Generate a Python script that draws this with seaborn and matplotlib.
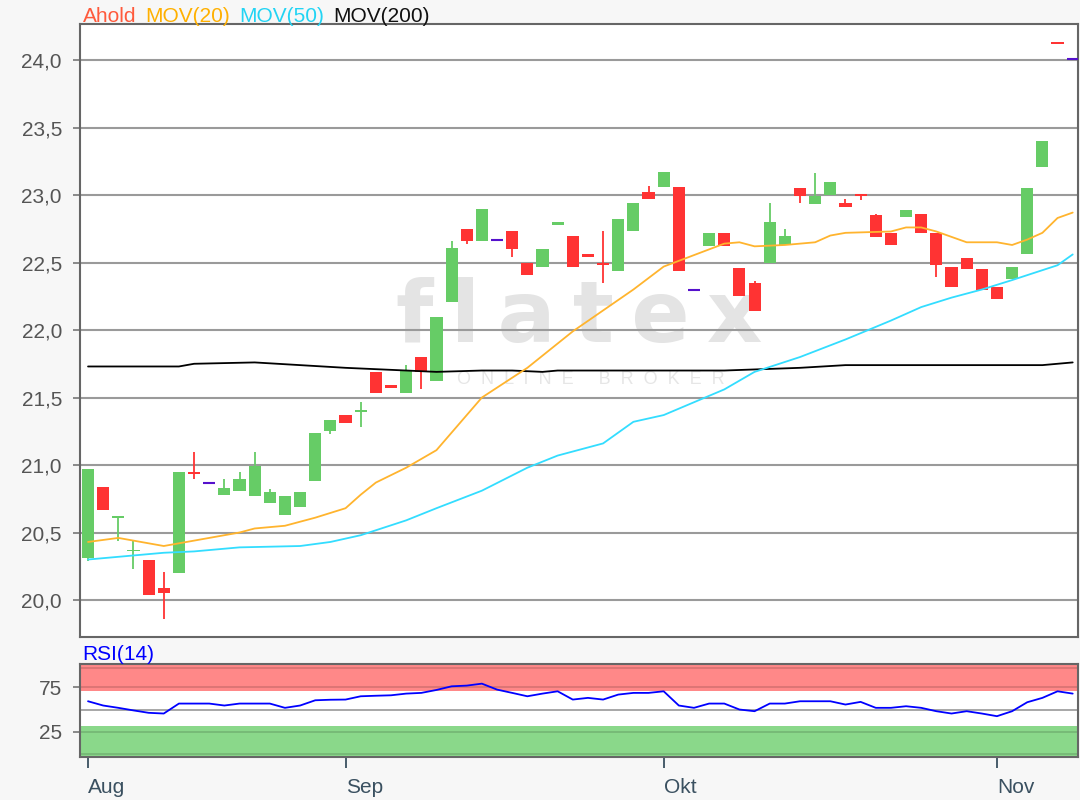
import matplotlib
matplotlib.use("Agg")
import matplotlib.pyplot as plt
import seaborn as sns
import pandas as pd
import numpy as np
from matplotlib.ticker import FuncFormatter

sns.set_theme(style="white")
plt.rcParams["font.family"] = ["Liberation Sans", "DejaVu Sans"]

# daily candles (trading day index 0..65)
open_ = [20.31, 20.84, 20.61, 20.36, 20.30, 20.09, 20.20, 20.95, 20.87, 20.78,
         20.81, 20.77, 20.72, 20.63, 20.69, 20.88, 21.25, 21.37, 21.39, 21.69,
         21.59, 21.53, 21.80, 21.62, 22.21, 22.75, 22.66, 22.67, 22.73, 22.50,
         22.47, 22.78, 22.70, 22.56, 22.50, 22.44, 22.73, 23.02, 23.06, 23.06,
         22.30, 22.62, 22.72, 22.46, 22.35, 22.50, 22.63, 23.05, 22.93, 23.00,
         22.94, 23.01, 22.85, 22.72, 22.84, 22.86, 22.72, 22.47, 22.53, 22.45,
         22.32, 22.38, 22.56, 23.21, 24.13, 24.01]
close = [20.97, 20.67, 20.62, 20.37, 20.04, 20.05, 20.95, 20.93, 20.87, 20.83,
         20.90, 20.99, 20.80, 20.77, 20.80, 21.24, 21.33, 21.31, 21.41, 21.53,
         21.57, 21.70, 21.69, 22.10, 22.61, 22.66, 22.90, 22.67, 22.60, 22.41,
         22.60, 22.80, 22.47, 22.54, 22.48, 22.82, 22.94, 22.97, 23.17, 22.44,
         22.30, 22.72, 22.62, 22.25, 22.14, 22.80, 22.70, 22.99, 22.99, 23.10,
         22.91, 22.99, 22.69, 22.63, 22.89, 22.72, 22.48, 22.32, 22.45, 22.30,
         22.23, 22.47, 23.05, 23.40, 24.12, 24.01]
high = [20.97, 20.84, 20.62, 20.44, 20.30, 20.21, 20.95, 21.10, 20.87, 20.90,
        20.95, 21.10, 20.82, 20.77, 20.80, 21.24, 21.33, 21.37, 21.47, 21.69,
        21.59, 21.74, 21.80, 22.10, 22.66, 22.75, 22.90, 22.67, 22.73, 22.50,
        22.60, 22.80, 22.70, 22.56, 22.73, 22.82, 22.94, 23.07, 23.17, 23.06,
        22.30, 22.72, 22.72, 22.46, 22.36, 22.94, 22.75, 23.05, 23.16, 23.10,
        22.97, 23.01, 22.86, 22.72, 22.89, 22.86, 22.72, 22.47, 22.53, 22.45,
        22.32, 22.47, 23.05, 23.40, 24.13, 24.01]
low = [20.29, 20.67, 20.44, 20.23, 20.04, 19.86, 20.20, 20.90, 20.87, 20.78,
       20.81, 20.77, 20.72, 20.63, 20.69, 20.88, 21.23, 21.31, 21.28, 21.53,
       21.57, 21.53, 21.56, 21.62, 22.21, 22.64, 22.66, 22.67, 22.54, 22.41,
       22.47, 22.78, 22.47, 22.54, 22.35, 22.44, 22.73, 22.97, 23.06, 22.44,
       22.30, 22.62, 22.62, 22.25, 22.14, 22.50, 22.63, 22.94, 22.93, 23.00,
       22.91, 22.96, 22.69, 22.63, 22.84, 22.72, 22.39, 22.32, 22.45, 22.30,
       22.23, 22.38, 22.56, 23.21, 24.12, 24.01]

# moving averages at these day positions
mov20_day = [0, 2, 5, 7, 10, 11, 13, 15, 17, 18, 19, 21, 23, 26, 29, 32, 36, 38,
             42, 43, 44, 46, 48, 49, 50, 53, 54, 55, 56, 58, 60, 61, 62, 63, 64, 65]
mov20 = [20.43, 20.46, 20.40, 20.44, 20.50, 20.53, 20.55, 20.61, 20.68, 20.78,
         20.87, 20.98, 21.11, 21.50, 21.72, 21.99, 22.30, 22.47, 22.64, 22.65,
         22.62, 22.63, 22.65, 22.70, 22.72, 22.73, 22.76, 22.76, 22.73, 22.65,
         22.65, 22.63, 22.67, 22.72, 22.83, 22.87]
mov50_day = [0, 5, 7, 10, 14, 16, 18, 21, 23, 26, 29, 31, 34, 36, 38, 42, 44, 47,
             50, 53, 55, 57, 59, 61, 64, 65]
mov50 = [20.30, 20.35, 20.36, 20.39, 20.40, 20.43, 20.48, 20.59, 20.68, 20.81,
         20.98, 21.07, 21.16, 21.32, 21.37, 21.56, 21.69, 21.80, 21.93, 22.07,
         22.17, 22.24, 22.30, 22.37, 22.48, 22.56]
mov200_day = [0, 6, 7, 11, 14, 17, 21, 23, 26, 28, 30, 31, 37, 42, 47, 50, 54, 63, 65]
mov200 = [21.73, 21.73, 21.75, 21.76, 21.74, 21.72, 21.70, 21.69, 21.70, 21.70,
          21.69, 21.70, 21.70, 21.70, 21.72, 21.74, 21.74, 21.74, 21.76]

rsi = [59.3, 54.5, 51.9, 49.0, 46.3, 45.5, 56.7, 56.7, 56.7, 54.5,
       56.7, 56.7, 56.7, 51.9, 54.5, 60.4, 61.0, 61.2, 64.9, 65.5,
       66.0, 67.9, 68.7, 72.0, 76.1, 76.9, 79.1, 72.4, 68.7, 64.9,
       67.9, 70.5, 61.2, 63.1, 61.2, 66.8, 68.7, 68.7, 70.5, 54.5,
       51.9, 56.7, 56.7, 50.0, 48.1, 56.7, 56.7, 59.3, 59.3, 59.3,
       55.6, 58.6, 51.9, 51.9, 53.7, 51.9, 48.1, 45.5, 48.1, 45.5,
       42.5, 48.1, 58.2, 63.1, 70.5, 67.9]

month_day = [0, 17, 38, 60]
month_lbl = ["Aug", "Sep", "Okt", "Nov"]

GREEN = "#66cc66"
RED = "#ff3333"
DOJI = "#5511cc"
C20 = "#ffb42e"
C50 = "#33ddff"

df = pd.DataFrame({"day": range(len(open_)), "open": open_, "close": close,
                   "high": high, "low": low})
df["lo"] = df[["open", "close"]].min(axis=1)
df["h"] = (df[["open", "close"]].max(axis=1) - df["lo"]).clip(lower=0.014)
df["col"] = np.where(df.close > df.open, GREEN, np.where(df.close < df.open, RED, DOJI))

fig = plt.figure(figsize=(10.8, 8), dpi=100, facecolor="#f7f7f7")
ax = fig.add_axes([80 / 1080, 1 - 637 / 800, 998 / 1080, 613 / 800])
rax = fig.add_axes([80 / 1080, 1 - 757 / 800, 998 / 1080, 93 / 800], sharex=ax)

# watermark
ax.text(0.50, 0.481, "f\u2009l\u2009a\u2009t\u2009e\u2009x", transform=ax.transAxes,
        ha="center", va="baseline", fontsize=62, fontweight="bold", color="#e4e4e4",
        family="DejaVu Sans", zorder=0)
ax.text(0.512, 0.413, "O  N  L  I  N  E     B  R  O  K  E  R", transform=ax.transAxes,
        ha="center", va="baseline", fontsize=13, color="#e6e6e6", zorder=0)

ax.yaxis.grid(True, color="#9a9a9a", lw=1.5, zorder=1)
ax.set_axisbelow(True)

# candles
body = df[df.close != df.open]
dj = df[df.close == df.open]
wk = df[df.high > df.low]
ax.vlines(wk.day, wk.low, wk.high, colors=wk.col, lw=1.3, zorder=3)
ax.bar(body.day, body.h, bottom=body.lo, width=0.8, color=body.col, lw=0, zorder=4)
ax.hlines(dj.close, dj.day - 0.4, dj.day + 0.4, colors=DOJI, lw=1.5, zorder=4)

sns.lineplot(x=mov200_day, y=mov200, ax=ax, color="black", lw=1.3, zorder=5)
sns.lineplot(x=mov50_day, y=mov50, ax=ax, color=C50, lw=1.3, zorder=5)
sns.lineplot(x=mov20_day, y=mov20, ax=ax, color=C20, lw=1.3, zorder=5)

ax.set_xlim(-0.53, 65.35)
ax.set_ylim(19.726, 24.267)
ax.set_yticks(np.arange(20, 24.01, 0.5))
ax.yaxis.set_major_formatter(FuncFormatter(lambda v, p: f"{v:.1f}".replace(".", ",")))
ax.tick_params(axis="y", left=True, length=5, width=1.2, color="#777777",
               labelsize=15, labelcolor="#555555", pad=8)
ax.tick_params(axis="x", bottom=False, labelbottom=False)
ax.set_xlabel("")
ax.set_ylabel("")
for s in ax.spines.values():
    s.set_color("#666666")
    s.set_linewidth(1.5)

# RSI panel
rax.set_facecolor("white")
rax.axhspan(70.5, 101, color="#ff8888", lw=0, zorder=1)
rax.axhspan(-3, 32, color="#8ad88a", lw=0, zorder=1)
rax.axhline(50, color="#a0a0a0", lw=1.3, zorder=2)
for lv in [0, 25, 75, 97]:
    rax.axhline(lv, color="black", alpha=0.15, lw=1.3, zorder=2)
sns.lineplot(x=list(range(len(rsi))), y=rsi, ax=rax, color="#0000ff", lw=1.3, zorder=3)
rax.set_ylim(-3.4, 101.2)
rax.set_yticks([25, 75])
rax.set_xticks(month_day)
rax.set_xticklabels(month_lbl, ha="left")
rax.tick_params(axis="y", left=True, length=5, width=1.2, color="#777777",
                labelsize=15, labelcolor="#555555", pad=8)
rax.tick_params(axis="x", bottom=True, length=8, width=1.3, color="#3a5060",
                labelsize=15, labelcolor="#3a5060", pad=7)
rax.set_xlabel("")
rax.set_ylabel("")
for s in rax.spines.values():
    s.set_color("#666666")
    s.set_linewidth(1.5)

# legend-style title line
r = fig.canvas.get_renderer()
x0 = 83
for txt, c in [("Ahold", "#ff5a3c"), ("MOV(20)", "#ffb000"), ("MOV(50)", "#22d4f4"),
               ("MOV(200)", "#111111")]:
    t = fig.text(x0 / 1080, 1 - 22 / 800, txt, color=c, fontsize=15, va="baseline")
    bb = t.get_window_extent(renderer=r)
    x0 += bb.width + 9
fig.text(82 / 1080, 1 - 660 / 800, "RSI(14)", color="#0000ff", fontsize=15, va="baseline")

fig.savefig("out.png", dpi=100, facecolor=fig.get_facecolor())
